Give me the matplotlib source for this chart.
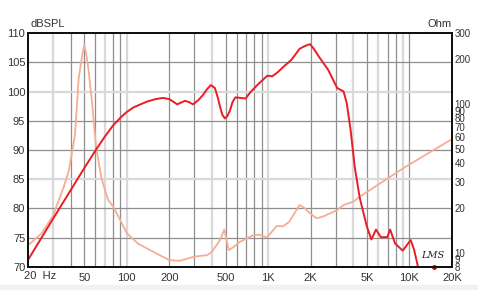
import matplotlib.pyplot as plt
import matplotlib.patches as mpatches

plt.rcParams['font.family'] = ['Liberation Sans', 'DejaVu Sans']

# SPL response (Hz, dB)
spl_freq = [20, 30, 40, 50, 60, 70, 80, 90, 100, 112, 125, 140, 160, 180, 200,
            215, 227, 242, 258, 275, 294, 320, 346, 370, 393, 420, 440, 458,
            475, 494, 515, 538, 560, 587, 640, 693, 751, 838, 987, 1070, 1170,
            1280, 1460, 1670, 1830, 1980, 2120, 2280, 2660, 3080, 3420, 3600,
            3830, 4100, 4450, 5000, 5380, 5800, 6270, 6960, 7300, 7920, 8960,
            10200, 10800, 11500, 20000]
spl_db = [71.2, 78.2, 83.1, 86.9, 89.9, 92.3, 94.2, 95.5, 96.5, 97.3, 97.8,
          98.3, 98.7, 98.9, 98.7, 98.2, 97.8, 98.1, 98.4, 98.2, 97.8, 98.5,
          99.4, 100.4, 101.1, 100.6, 99.0, 97.3, 96.0, 95.4, 95.8, 96.8, 98.2,
          99.0, 98.9, 98.8, 99.9, 101.1, 102.7, 102.6, 103.3, 104.2, 105.4,
          107.3, 107.8, 108.1, 107.2, 106.0, 103.7, 100.6, 100.0, 98.0, 93.5,
          87.1, 81.8, 76.9, 74.7, 76.4, 75.1, 75.1, 76.4, 74.0, 72.8, 74.6,
          72.9, 70.0, 70.0]

# Impedance (Hz, Ohm)
imp_freq = [20, 25, 30, 35.6, 39, 43, 45.7, 48.5, 50, 51.5, 53.4, 56.6, 60.6,
            66, 70, 73.8, 80, 90, 100, 120, 146, 200, 237, 300, 369, 400, 458,
            490, 526, 570, 630, 785, 870, 980, 1150, 1270, 1410, 1670, 1810,
            1980, 2200, 2450, 3080, 3420, 4000, 4450, 9400, 20000]
imp_ohm = [11.2, 13.5, 17.6, 27.2, 36, 62, 150, 215, 248, 220, 175, 105, 52,
           32, 26.4, 22.6, 20.4, 16.5, 13.5, 11.5, 10.4, 8.9, 8.8, 9.4, 9.6,
           10.1, 12.2, 14.3, 10.4, 10.9, 11.8, 13.1, 13.2, 12.6, 15.1, 15.0,
           16.1, 20.9, 19.9, 18.4, 17.0, 17.5, 19.3, 20.9, 22.0, 23.8, 37.8,
           58.0]

x_ticks = [50, 100, 200, 500, 1000, 2000, 5000, 10000, 20000]
x_labels = ['50', '100', '200', '500', '1K', '2K', '5K', '10K', '20K']
db_ticks = [70, 75, 80, 85, 90, 95, 100, 105, 110]
ohm_ticks = [8, 9, 10, 20, 30, 40, 50, 60, 70, 80, 90, 100, 200, 300]

dark_v = [40, 50, 60, 80, 90, 200, 300, 500, 600, 700, 800, 900, 2000, 3000,
          5000, 7000, 8000, 10000]
light_v = [30, 70, 100, 400, 1000, 4000, 6000, 9000]
light_h = [85, 100]

fig = plt.figure(figsize=(4.78, 2.90), dpi=100)
ax = fig.add_axes([28 / 478, 23 / 290, 424 / 478, 234 / 290])
ax2 = ax.twinx()

ax.set_xscale('log')
ax.set_xlim(20, 20000)
ax.set_ylim(70, 110)
ax2.set_yscale('log')
ax2.set_ylim(8, 300)

for f in light_v:
    ax.axvline(f, color='#d9d9d9', lw=1.6, zorder=1)
for f in dark_v:
    ax.axvline(f, color='#8e8e8e', lw=0.9, zorder=1)
for d in db_ticks[1:-1]:
    if d in light_h:
        ax.axhline(d, color='#d9d9d9', lw=1.6, zorder=1)
    else:
        ax.axhline(d, color='#8e8e8e', lw=0.9, zorder=1)

ax.plot(imp_freq, imp_ohm, color='#f7ad94', lw=1.3, zorder=3,
        transform=ax2.transData)
ax.plot(spl_freq, spl_db, color='#ec1c24', lw=1.4, zorder=4, clip_on=False)
ax.plot([15000], [70], 'o', color='#b01018', ms=2.5, zorder=5, clip_on=False)
ax.text(14500, 71.2, 'LMS', fontsize=7, style='italic',
        family='DejaVu Serif', color='#222222', ha='center', va='bottom')

ax.set_xticks(x_ticks)
ax.set_xticklabels(x_labels)
ax.minorticks_off()
ax.set_yticks(db_ticks)
ax.tick_params(axis='both', length=0, labelsize=8, colors='#333333')
ax.tick_params(axis='x', pad=4)
ax.tick_params(axis='y', pad=2)
ax.annotate('20  Hz', xy=(20, 0), xycoords=('data', 'axes fraction'),
            xytext=(-4, -4), textcoords='offset pixels', ha='left', va='top',
            fontsize=8, color='#333333')

ax2.set_yticks(ohm_ticks)
ax2.set_yticklabels([str(t) for t in ohm_ticks])
ax2.minorticks_off()
ax2.tick_params(axis='y', length=0, labelsize=7, colors='#333333', pad=2)

for a in (ax, ax2):
    for s in a.spines.values():
        s.set_color('#111111')
        s.set_linewidth(1.4)

ax.text(0.005, 1.015, 'dBSPL', transform=ax.transAxes, fontsize=8,
        color='#333333', ha='left', va='bottom')
ax.text(1.0, 1.015, 'Ohm', transform=ax.transAxes, fontsize=8,
        color='#333333', ha='right', va='bottom')

fig.patches.append(mpatches.Rectangle((0, 0), 1, 5 / 290,
                                      transform=fig.transFigure,
                                      color='#f1f1f1', zorder=0))
fig.savefig('out.png', dpi=100)
